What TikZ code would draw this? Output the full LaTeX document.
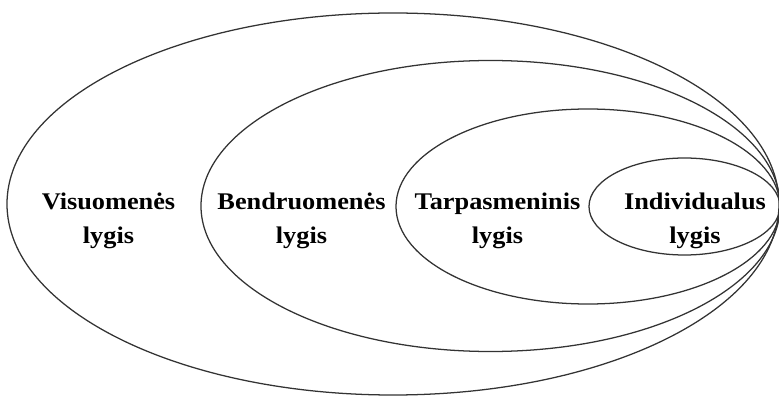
\documentclass[tikz,border=0pt]{standalone}
\usepackage{fontspec}
\setmainfont{Liberation Serif}
\newfontfamily\tagfont[FakeStretch=1.1]{Liberation Serif}
\usetikzlibrary{positioning}

\begin{document}
\begin{tikzpicture}[
    x=0.025cm, y=0.025cm,
    level/.style={
        draw=black!80,
        line width=0.9pt
    },
    tag/.style={
        align=center,
        inner sep=0pt,
        font=\tagfont\bfseries\fontsize{17}{24.2}\selectfont
    }
]
    \useasboundingbox (0,0) rectangle (779,396);

    % Levels, outer to inner
    \draw[level] (393,192) ellipse [x radius=386, y radius=191];
    \draw[level] (490.5,190) ellipse [x radius=289.5, y radius=145.5];
    \draw[level] (588,189.5) ellipse [x radius=192, y radius=97.5];
    \draw[level] (684.5,189.5) ellipse [x radius=95.5, y radius=48.5];

    % Labels
    \node[tag] (visuomene) at (108.5,175.5) {Visuomenės\\lygis};
    \node[tag] (bendruomene) at (301.5,175.5) {Bendruomenės\\lygis};
    \node[tag] (tarpasmenine) at (497.5,175) {Tarpasmeninis\\lygis};
    \node[tag] (individualus) at (695,175.5) {Individualus\\lygis};

\end{tikzpicture}
\end{document}
